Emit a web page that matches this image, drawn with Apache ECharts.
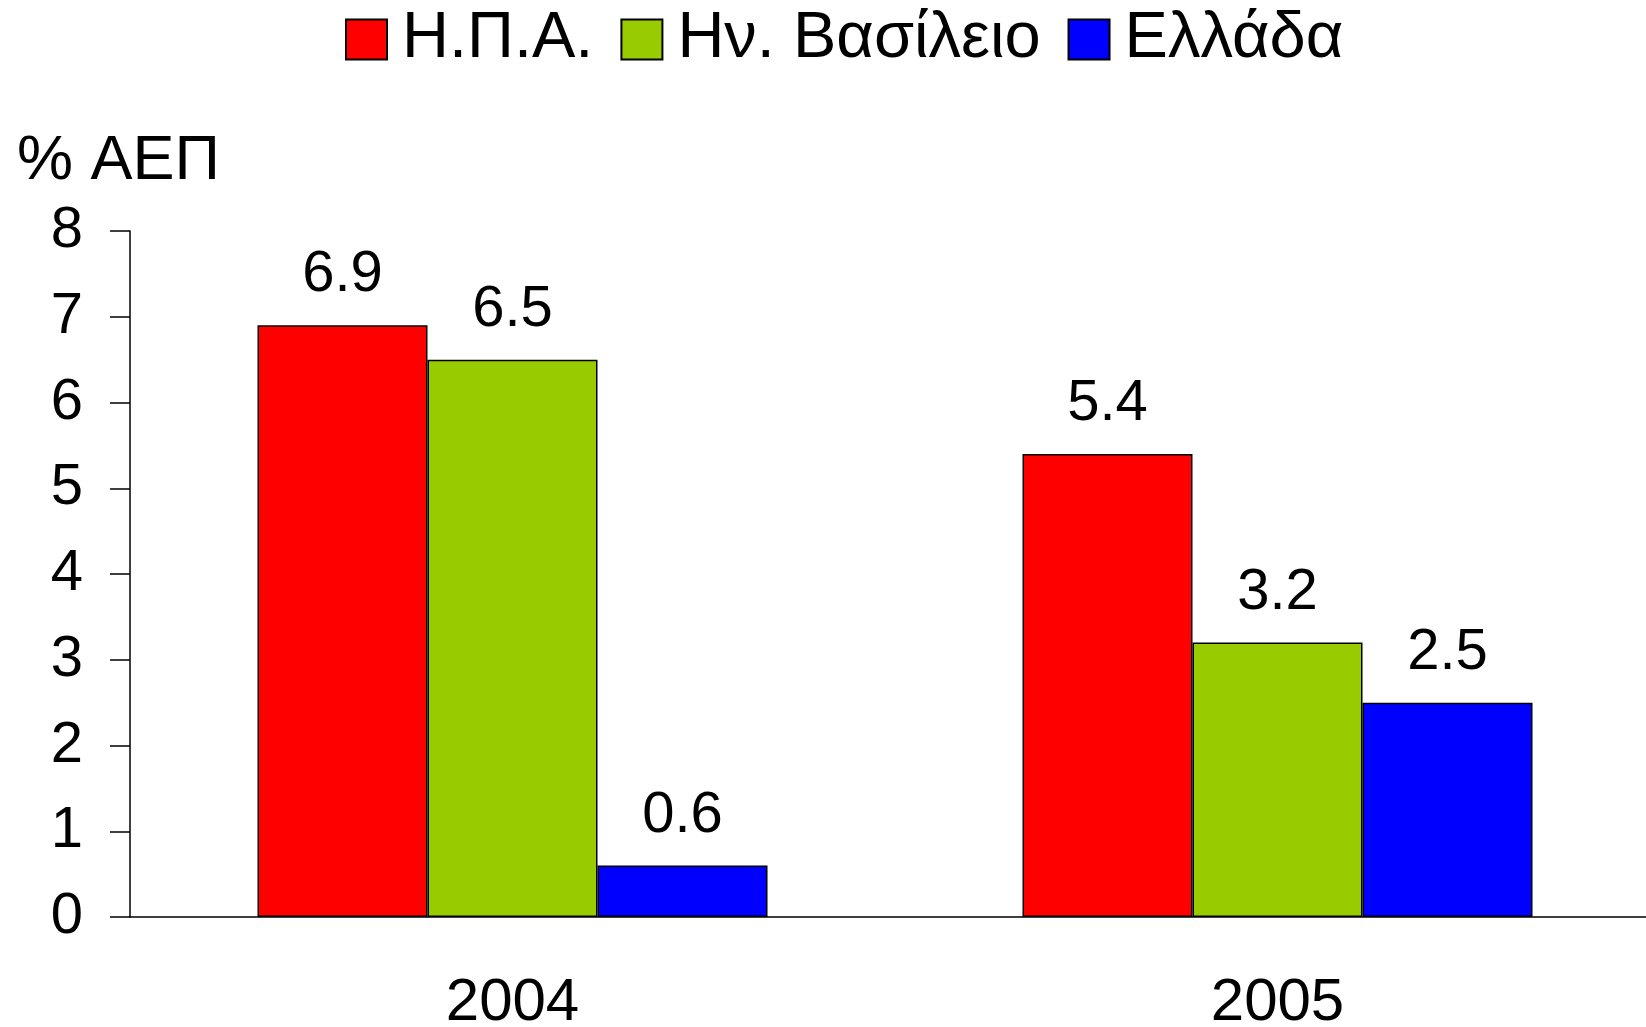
<!DOCTYPE html>
<html>
<head>
<meta charset="utf-8">
<script src="https://cdn.jsdelivr.net/npm/echarts@6/dist/echarts.min.js"></script>
<style>
  html, body { margin: 0; padding: 0; background: #fff; }
  #chart { width: 1646px; height: 1027px; }
</style>
</head>
<body>
<div id="chart"></div>
<script>
const years = ['2004', '2005']
const seriesNames = ['Η.Π.Α.', 'Ην. Βασίλειο', 'Ελλάδα']
const usa = [6.9, 5.4]
const uk = [6.5, 3.2]
const greece = [0.6, 2.5]
const yTicks = [0, 1, 2, 3, 4, 5, 6, 7, 8]
const colors = ['#ff0000', '#99cc00', '#0000ff']

const font = '"Liberation Sans", Arial, sans-serif'

const makeSeries = (name, data, color) => ({
  name,
  type: 'bar',
  data,
  barWidth: 170,
  barGap: '0%',
  itemStyle: { color, borderColor: '#000', borderWidth: 1.5 },
  label: {
    show: true,
    position: 'top',
    distance: 21,
    color: '#000',
    fontSize: 58,
    fontFamily: font,
  },
})

const chart = echarts.init(document.getElementById('chart'))
chart.setOption({
  animation: false,
  backgroundColor: '#fff',
  title: {
    text: '% ΑΕΠ',
    left: 12,
    top: 125,
    textStyle: { color: '#000', fontSize: 63, fontWeight: 'normal', fontFamily: font },
  },
  legend: {
    data: seriesNames,
    left: 345,
    top: 7,
    padding: 0,
    itemWidth: 41,
    itemHeight: 40,
    itemGap: 27,
    icon: 'rect',
    textStyle: { color: '#000', fontSize: 65, fontFamily: font, padding: [0, 0, 0, 10] },
  },
  grid: { left: 130, right: -14, top: 231, bottom: 110, outerBoundsMode: 'none' },
  xAxis: {
    type: 'category',
    data: years,
    axisLine: { lineStyle: { color: '#000', width: 1.5 } },
    axisTick: { show: false },
    axisLabel: { color: '#000', fontSize: 60, fontFamily: font, margin: 56 },
  },
  yAxis: {
    type: 'value',
    min: yTicks[0],
    max: yTicks[yTicks.length - 1],
    interval: 1,
    axisLine: { show: true, lineStyle: { color: '#000', width: 1.5 } },
    axisTick: { show: true, inside: false, length: 20, lineStyle: { color: '#000', width: 1.5 } },
    axisLabel: { color: '#000', fontSize: 58, fontFamily: font, margin: 47 },
    splitLine: { show: false },
  },
  series: [
    makeSeries(seriesNames[0], usa, colors[0]),
    makeSeries(seriesNames[1], uk, colors[1]),
    makeSeries(seriesNames[2], greece, colors[2]),
  ],
})
</script>
</body>
</html>
